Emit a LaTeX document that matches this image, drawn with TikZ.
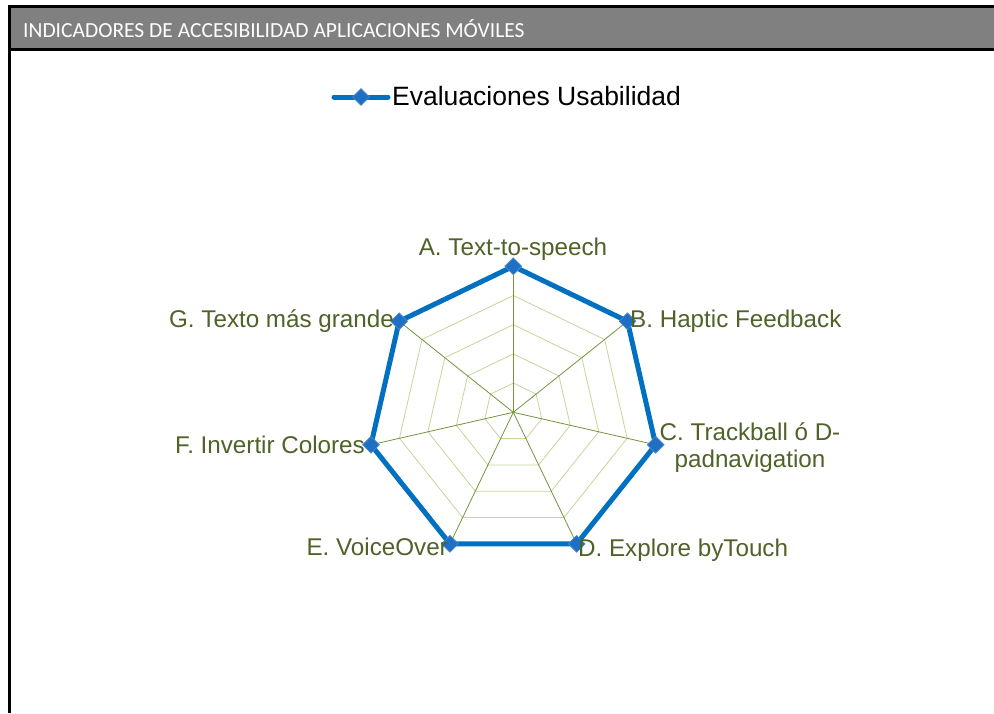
\documentclass[tikz,border=0pt]{standalone}
\usepackage{fontspec}
\setmainfont{Liberation Sans}
\newfontfamily\hdrfont{Carlito}
\usetikzlibrary{calc,shapes.geometric}
\definecolor{hdrgray}{HTML}{808080}
\definecolor{olivetxt}{HTML}{4F6228}
\definecolor{spokecol}{HTML}{77933C}
\definecolor{ringcol}{HTML}{C3D69B}
\definecolor{datablue}{HTML}{0070C0}
\definecolor{markfill}{HTML}{1F6FC5}
\definecolor{markedge}{HTML}{4A86C8}
\tikzset{
  axislabel/.style={inner sep=0pt, text=olivetxt, font=\fontsize{24.2}{27}\selectfont},
  ringline/.style={draw=ringcol, line width=0.8pt},
  spokeline/.style={draw=spokecol, line width=0.8pt},
  dataline/.style={draw=datablue, line width=5pt, line join=miter},
  marker/.style={diamond, fill=markfill, draw=markedge, line width=0.8pt, inner sep=0pt, minimum width=17pt, minimum height=17pt},
  frameline/.style={draw=black, line width=2.6pt}
}
\begin{document}
\begin{tikzpicture}[x=1pt,y=-1pt]
\useasboundingbox (0,0) rectangle (994,713);
\fill[white] (0,0) rectangle (994,713);
% header
\fill[hdrgray] (10,6) rectangle (994,49);
\draw[frameline] (8,6.2) -- (994,6.2);
\draw[frameline] (8,49.5) -- (994,49.5);
\draw[frameline] (9.7,5) -- (9.7,713);
\node[anchor=west, inner sep=0pt, text=white, font=\hdrfont\fontsize{21.5}{25}\selectfont] (title) at (23,28.5) {INDICADORES DE ACCESIBILIDAD APLICACIONES MÓVILES};
% legend
\coordinate (legA) at (334,97);
\coordinate (legB) at (388,97);
\draw[dataline, line cap=round] (legA) -- (legB);
\node[marker] (legmark) at (361,97) {};
\node[anchor=base west, inner sep=0pt, font=\fontsize{26.5}{30}\selectfont] (legtext) at (392,105) {Evaluaciones Usabilidad};
% radar
\coordinate (O) at (513.3,412.3);
\foreach \i in {0,...,6} {
  \coordinate (v\i) at ($(O)+({-90+\i*360/7}:146)$);
}
\foreach \k in {1,...,4} {
  \draw[ringline] ($(O)+(-90:{29.2*\k})$)
    \foreach \i in {1,...,6} { -- ($(O)+({-90+\i*360/7}:{29.2*\k})$) } -- cycle;
}
\foreach \i in {0,...,6} {
  \draw[spokeline] (O) -- (v\i);
}
\draw[dataline] (v0) -- (v1) -- (v2) -- (v3) -- (v4) -- (v5) -- (v6) -- cycle;
\foreach \i in {0,...,6} {
  \node[marker] (m\i) at (v\i) {};
}
% labels
\node[axislabel, anchor=base] (labA) at (513,255) {A. Text-to-speech};
\node[axislabel, anchor=base west] (labB) at (630,327) {B. Haptic Feedback};
\node[axislabel, anchor=base, align=center] (labC) at (750,467) {C. Trackball ó D-\\padnavigation};
\node[axislabel, anchor=base west] (labD) at (578,556) {D. Explore byTouch};
\node[axislabel, anchor=base east] (labE) at (448,555) {E. VoiceOver};
\node[axislabel, anchor=base east] (labF) at (365,453) {F. Invertir Colores};
\node[axislabel, anchor=base east] (labG) at (394,327) {G. Texto más grande};
\end{tikzpicture}
\end{document}
